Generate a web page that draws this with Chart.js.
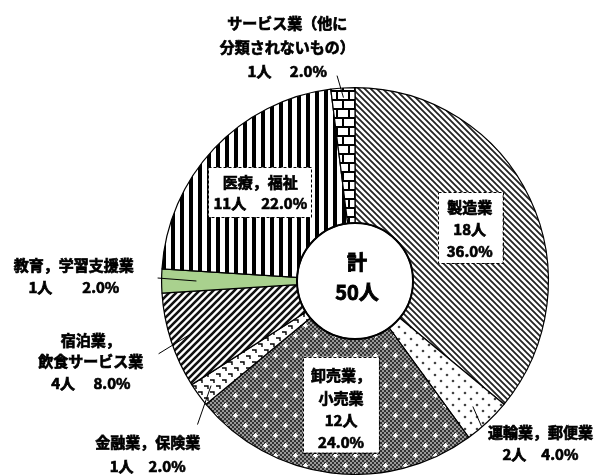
<!DOCTYPE html>
<html><head><meta charset="utf-8">
<script src="https://cdn.jsdelivr.net/npm/chart.js@4/dist/chart.umd.min.js"></script>
<style>html,body{margin:0;padding:0;background:#fff;}#wrap{width:600px;height:475px;position:relative;}</style>
</head><body><div id="wrap"><canvas id="c" width="600" height="475"></canvas></div>
<script>
// ---- data ----
const categories = [['製造業'], ['運輸業，郵便業'], ['卸売業，', '小売業'], ['金融業，保険業'], ['宿泊業，', '飲食サービス業'], ['教育，学習支援業'], ['医療，福祉'], ['サービス業（他に', '分類されないもの）']];
const counts = [18, 2, 12, 1, 4, 1, 11, 1];
const unit = '人';
const totalName = '計';

// ---- patterns ----
function pat(w, h, fn) { const c = document.createElement('canvas'); c.width = w; c.height = h; const g = c.getContext('2d'); fn(g, w, h); return g.createPattern(c, 'repeat'); }
function diag(s, lw, col, up) {
  return pat(s, s, (g) => { g.fillStyle = '#fff'; g.fillRect(0, 0, s, s); g.strokeStyle = col; g.lineWidth = lw; g.beginPath();
    for (let k = -1; k <= 1; k++) { if (up) { g.moveTo(k * s - 1, s + 1); g.lineTo(k * s + s + 1, -1); } else { g.moveTo(k * s - 1, -1); g.lineTo(k * s + s + 1, s + 1); } }
    g.stroke(); });
}
const pManufacturing = diag(6, 1.8, '#222', false);
const pTransport = pat(12, 12, (g) => { g.fillStyle = '#fff'; g.fillRect(0, 0, 12, 12); g.fillStyle = '#444';
  [[3, 3], [9, 9]].forEach(([x, y]) => { g.beginPath(); g.arc(x, y, 1.3, 0, Math.PI * 2); g.fill(); }); });
const pRetail = pat(20, 20, (g) => {
  for (let y = 0; y < 20; y++) for (let x = 0; x < 20; x++) { g.fillStyle = (((x >> 1) + (y >> 1)) % 2) ? '#333' : '#999'; g.fillRect(x, y, 1, 1); }
  g.fillStyle = '#fff'; [[5, 5], [15, 15]].forEach(([x, y]) => { g.fillRect(x - 1, y - 1, 3, 3); g.fillRect(x - 2, y, 5, 1); g.fillRect(x, y - 2, 1, 5); });
});
const pFinance = pat(12, 12, (g) => { g.fillStyle = '#fff'; g.fillRect(0, 0, 12, 12); g.strokeStyle = '#000'; g.lineWidth = 1.4; g.beginPath();
  g.moveTo(0, 2); g.lineTo(4, 2); g.lineTo(4, 5); g.moveTo(6, 8); g.lineTo(10, 8); g.lineTo(10, 11); g.stroke(); });
const pHotel = diag(7, 2.6, '#111', true);
const pEducation = '#a9d18e';
const pMedical = pat(9, 4, (g) => { g.fillStyle = '#fff'; g.fillRect(0, 0, 9, 4); g.fillStyle = '#000'; g.fillRect(0, 0, 4, 4); });
const pService = pat(12, 18, (g) => { g.fillStyle = '#fff'; g.fillRect(0, 0, 12, 18); g.fillStyle = '#000';
  g.fillRect(0, 0, 12, 2); g.fillRect(0, 9, 12, 2); g.fillRect(0, 0, 2, 9); g.fillRect(6, 9, 2, 9); });
const fills = [pManufacturing, pTransport, pRetail, pFinance, pHotel, pEducation, pMedical, pService];

// ---- label layout (offsets from doughnut centre at radius 194) ----
const layout = [
  { x: 115, y: -74, lh: 22, split: true, box: [83, -89, 148, -18] },
  { x: 186, y: 152, lh: 22, gap: '　', leader: [127, 146, 0.89] },
  { x: -14, y: 95, lh: 22.3, split: true, box: [-52, 76, 24, 172] },
  { x: -208, y: 162, lh: 24, gap: '　', leader: [-158, 144, 0.92] },
  { x: -265, y: 59, lh: 22, gap: '　 ', leader: [-197, 73, 0.9] },
  { x: -282, y: -16, lh: 22, gap: '　　', leader: [-198, -3, 0.82] },
  { x: -95, y: -99, lh: 21, gap: '　', box: [-147, -114, -44, -64] },
  { x: -68, y: -259, lh: 24.5, gap: '　 ', leader: [-18, -206, 0.95] }
];

const FONT = '"Noto Sans CJK JP", "Noto Sans", sans-serif';
function boldText(ctx, t, x, y, w) { ctx.fillText(t, x, y); ctx.lineWidth = w; ctx.strokeText(t, x, y); }
const labelPlugin = {
  id: 'labels',
  beforeDraw(chart) { const c = chart.ctx; c.save(); c.fillStyle = '#fff'; c.fillRect(0, 0, chart.width, chart.height); c.restore(); },
  afterDatasetsDraw(chart) {
    const ctx = chart.ctx;
    const meta = chart.getDatasetMeta(0);
    const a0 = meta.data[0];
    const cx = a0.x, cy = a0.y, R = a0.outerRadius, s = R / 194;
    const total = counts.reduce((a, b) => a + b, 0);
    ctx.save();
    // thicker ring round the centre hole
    ctx.beginPath(); ctx.arc(cx, cy, a0.innerRadius, 0, Math.PI * 2); ctx.lineWidth = 2; ctx.strokeStyle = '#000'; ctx.stroke();
    ctx.textAlign = 'center'; ctx.textBaseline = 'middle';
    layout.forEach((L, i) => {
      const arc = meta.data[i];
      const pct = (counts[i] / total * 100).toFixed(1) + '%';
      const lines = categories[i].slice();
      if (L.split) { lines.push(counts[i] + unit, pct); } else { lines.push(counts[i] + unit + L.gap + pct); }
      if (L.box) {
        const [x0, y0, x1, y1] = L.box;
        ctx.fillStyle = '#fff';
        ctx.fillRect(cx + x0 * s, cy + y0 * s, (x1 - x0) * s, (y1 - y0) * s);
        ctx.setLineDash([3, 2]); ctx.lineWidth = 1; ctx.strokeStyle = '#000';
        ctx.strokeRect(Math.round(cx + x0 * s) + 0.5, Math.round(cy + y0 * s) + 0.5, Math.round((x1 - x0) * s), Math.round((y1 - y0) * s));
        ctx.setLineDash([]);
      }
      if (L.leader) {
        const mid = (arc.startAngle + arc.endAngle) / 2;
        const ex = cx + Math.cos(mid) * R * L.leader[2], ey = cy + Math.sin(mid) * R * L.leader[2];
        ctx.beginPath(); ctx.moveTo(cx + L.leader[0] * s, cy + L.leader[1] * s); ctx.lineTo(ex, ey);
        ctx.strokeStyle = '#000'; ctx.lineWidth = 1; ctx.stroke();
      }
      ctx.fillStyle = '#000'; ctx.strokeStyle = '#000';
      ctx.font = 'bold 15px ' + FONT;
      lines.forEach((t, k) => boldText(ctx, t, cx + L.x * s, cy + (L.y + k * L.lh) * s, 0.7));
    });
    ctx.font = 'bold 20px ' + FONT;
    boldText(ctx, totalName, cx + 2, cy - 19 * s, 0.9);
    boldText(ctx, total + unit, cx + 2, cy + 11 * s, 0.9);
    ctx.restore();
  }
};

new Chart(document.getElementById('c'), {
  type: 'doughnut',
  data: { labels: categories.map(l => l.join('')), datasets: [{ data: counts, backgroundColor: fills, borderColor: '#000', borderWidth: 1.2, hoverOffset: 0 }] },
  options: {
    responsive: false, animation: false, events: [],
    cutout: '30%',
    layout: { padding: { left: 161, right: 51, top: 87, bottom: 0 } },
    plugins: { legend: { display: false }, tooltip: { enabled: false } }
  },
  plugins: [labelPlugin]
});
</script></body></html>
